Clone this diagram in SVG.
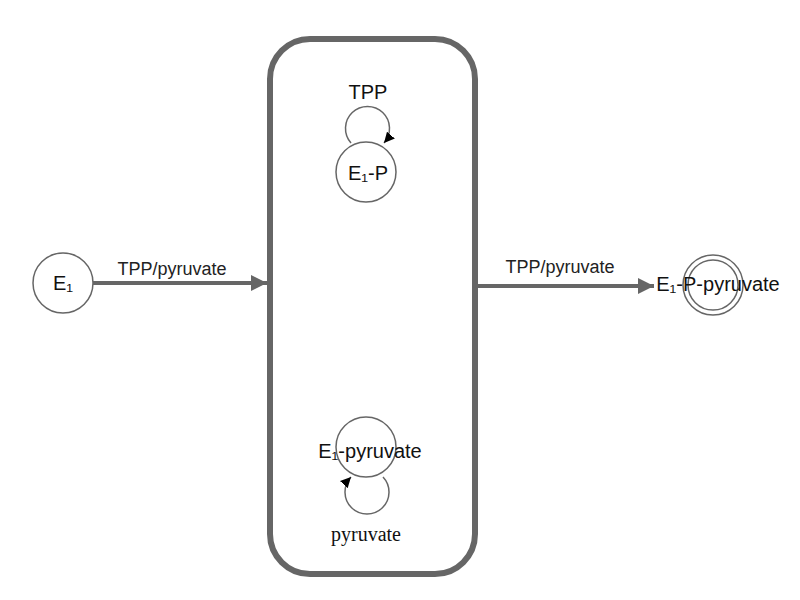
<svg xmlns="http://www.w3.org/2000/svg" width="800" height="600" viewBox="0 0 800 600">
<defs>
<style>
.node{fill:#fff;stroke:#666;stroke-width:1.5}
.lbl{font-family:"Liberation Sans",Arial,sans-serif;font-size:20px;fill:#111;text-anchor:middle}
.elbl{font-family:"Liberation Sans",Arial,sans-serif;font-size:18px;fill:#222;text-anchor:middle}
.edge{fill:none;stroke:#666;stroke-width:4}
.loop{fill:none;stroke:#666;stroke-width:1.5}
</style>
<marker id="big" viewBox="0 0 10 10" refX="10" refY="5" markerWidth="5" markerHeight="4" markerUnits="strokeWidth" orient="auto"><path d="M0,0 L10,5 L0,10 z" fill="#666"/></marker>
<marker id="small" viewBox="0 0 10 10" refX="10" refY="5" markerWidth="7" markerHeight="7" markerUnits="strokeWidth" orient="auto"><path d="M0,0 L10,5 L0,10 z" fill="#000"/></marker>
</defs>
<g id="composite">
<rect x="270" y="39" width="205" height="535" rx="40" ry="40" fill="#fff" stroke="#666" stroke-width="6"/>
</g>
<g id="connectors">
<path class="edge" d="M93,283 L267,283" marker-end="url(#big)"/>
<text class="elbl" x="172" y="275">TPP/pyruvate</text>
<path class="edge" d="M478,286 L654,286" marker-end="url(#big)"/>
<text class="elbl" x="560" y="273">TPP/pyruvate</text>
<path class="loop" d="M351,143 A22,22 0 1 1 384,143" marker-end="url(#small)"/>
<text class="lbl" x="368" y="99">TPP</text>
<path class="loop" d="M383,477 A22,22 0 1 1 351,477" marker-end="url(#small)"/>
<text x="366" y="541" style="font-family:'Liberation Serif','Times New Roman',serif;font-size:20px;fill:#111;text-anchor:middle">pyruvate</text>
</g>
<g id="E1">
<circle class="node" cx="63" cy="283" r="30"/>
<text class="lbl" x="63" y="290">E₁</text>
</g>
<g id="E1-P">
<circle class="node" cx="366" cy="172" r="30"/>
<text class="lbl" x="368" y="180">E₁-P</text>
</g>
<g id="E1-pyruvate">
<circle class="node" cx="366" cy="447" r="30" style="fill:none"/>
<text class="lbl" x="370" y="458">E₁-pyruvate</text>
</g>
<g id="E1-P-pyruvate">
<circle class="node" cx="713" cy="285" r="30" style="fill:none"/>
<circle class="node" cx="713" cy="285" r="25" style="fill:none"/>
<text class="lbl" x="718" y="291">E₁-P-pyruvate</text>
</g>
</svg>
